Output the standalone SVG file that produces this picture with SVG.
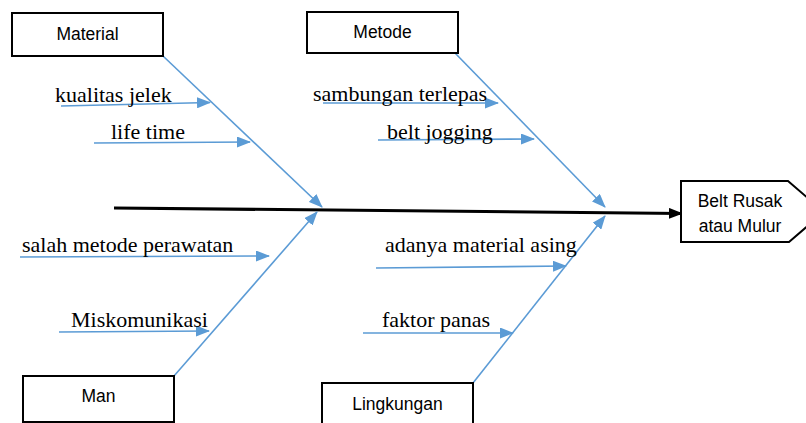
<svg xmlns="http://www.w3.org/2000/svg" width="806" height="423" viewBox="0 0 806 423">
<style>
.box{fill:#fff;stroke:#000;stroke-width:2}
.lbl{font-family:"Liberation Sans",Arial,sans-serif;font-size:17.5px;fill:#000}
.cause{font-family:"Liberation Serif","Times New Roman",serif;font-size:22px;fill:#000}
.bone{stroke:#5B9BD5;stroke-width:1.6;fill:none;marker-end:url(#ab)}
.spine{stroke:#000;stroke-width:3;fill:none;marker-end:url(#ak)}
</style>
<defs>
<marker id="ab" markerUnits="userSpaceOnUse" markerWidth="14" markerHeight="11" refX="13" refY="5.5" orient="auto">
<path d="M0,0 L14,5.5 L0,11 Z" fill="#5B9BD5"/>
</marker>
<marker id="ak" markerUnits="userSpaceOnUse" markerWidth="14" markerHeight="11" refX="13" refY="5.5" orient="auto">
<path d="M0,0 L14,5.5 L0,11 Z" fill="#000"/>
</marker>
</defs>
<rect width="806" height="423" fill="#fff"/>
<g id="connectors">
<line class="spine" x1="114" y1="208" x2="682" y2="213.5"/>
<line class="bone" x1="163" y1="56" x2="322" y2="207"/>
<line class="bone" x1="455" y1="53" x2="605" y2="207"/>
<line class="bone" x1="174" y1="376" x2="317" y2="212"/>
<line class="bone" x1="473" y1="383" x2="605" y2="216"/>
<line class="bone" x1="61" y1="106" x2="210" y2="102.5"/>
<line class="bone" x1="94" y1="143" x2="250" y2="142"/>
<line class="bone" x1="323" y1="103" x2="498" y2="103"/>
<line class="bone" x1="378" y1="140" x2="534" y2="139"/>
<line class="bone" x1="20" y1="257" x2="269" y2="256"/>
<line class="bone" x1="59" y1="332" x2="209" y2="331"/>
<line class="bone" x1="376" y1="268" x2="566" y2="266"/>
<line class="bone" x1="363" y1="333" x2="513" y2="333"/>
</g>
<g id="material">
<rect class="box" x="12" y="13" width="151" height="43"/>
<text class="lbl" x="87.5" y="40" text-anchor="middle">Material</text>
</g>
<g id="metode">
<rect class="box" x="307" y="12" width="151" height="41"/>
<text class="lbl" x="382.5" y="38" text-anchor="middle">Metode</text>
</g>
<g id="man">
<rect class="box" x="23" y="376" width="151" height="46"/>
<text class="lbl" x="98.5" y="402" text-anchor="middle">Man</text>
</g>
<g id="lingkungan">
<rect class="box" x="322" y="383" width="151" height="45"/>
<text class="lbl" x="397.5" y="410" text-anchor="middle">Lingkungan</text>
</g>
<g id="effect">
<path class="box" d="M681,181 L788,181 L824,212 L789,242 L681,242 Z"/>
<text class="lbl" x="740" y="207" text-anchor="middle">Belt Rusak</text>
<text class="lbl" x="740" y="232" text-anchor="middle">atau Mulur</text>
</g>
<g id="causes">
<text class="cause" x="55" y="102">kualitas jelek</text>
<text class="cause" x="111" y="139">life time</text>
<text class="cause" x="313" y="101">sambungan terlepas</text>
<text class="cause" x="387" y="139">belt jogging</text>
<text class="cause" x="22" y="252">salah metode perawatan</text>
<text class="cause" x="71" y="327">Miskomunikasi</text>
<text class="cause" x="385" y="252">adanya material asing</text>
<text class="cause" x="382" y="327">faktor panas</text>
</g>
</svg>
